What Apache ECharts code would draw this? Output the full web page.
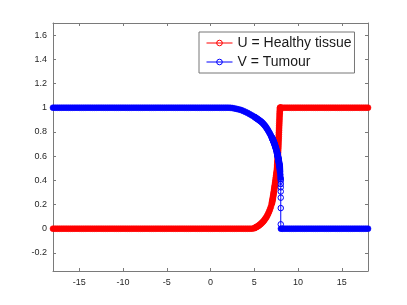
<!DOCTYPE html>
<html><head><meta charset="utf-8">
<script src="https://cdn.jsdelivr.net/npm/echarts@6/dist/echarts.min.js"></script>
<style>html,body{margin:0;padding:0;background:#fff}#c{width:407px;height:305px}</style>
</head><body><div id="c"></div>
<script>
const seriesNames = ['U = Healthy tissue', 'V = Tumour'];

const xs = [
-18,-17.75,-17.5,-17.25,-17,-16.75,-16.5,-16.25,-16,-15.75,
-15.5,-15.25,-15,-14.75,-14.5,-14.25,-14,-13.75,-13.5,-13.25,
-13,-12.75,-12.5,-12.25,-12,-11.75,-11.5,-11.25,-11,-10.75,
-10.5,-10.25,-10,-9.75,-9.5,-9.25,-9,-8.75,-8.5,-8.25,
-8,-7.75,-7.5,-7.25,-7,-6.75,-6.5,-6.25,-6,-5.75,
-5.5,-5.25,-5,-4.75,-4.5,-4.25,-4,-3.75,-3.5,-3.25,
-3,-2.75,-2.5,-2.25,-2,-1.75,-1.5,-1.25,-1,-0.75,
-0.5,-0.25,0,0.25,0.5,0.75,1,1.25,1.5,1.75,
2,2.25,2.5,2.75,3,3.25,3.5,3.75,4,4.25,
4.5,4.75,5,
5.1,5.2,5.3,5.4,5.5,5.6,5.7,5.8,5.9,6.0,
6.1,6.2,6.3,6.4,6.5,6.6,6.7,6.8,6.9,7.0,
7.025,7.05,7.075,7.1,7.125,7.15,7.175,7.2,7.225,7.25,7.275,7.3,
7.325,7.35,7.375,7.4,7.425,7.45,7.475,7.5,7.525,7.55,7.575,7.6,
7.61,7.62,7.63,7.64,7.65,7.66,7.67,7.68,7.69,7.7,
7.71,7.72,7.73,7.74,7.75,7.76,7.77,7.78,7.79,7.8,
7.81,7.82,7.83,7.84,7.85,7.86,7.87,7.88,7.89,7.9,
7.91,7.92,7.93,7.94,7.95,
7.975,8.0,
8.05,
8.25,8.5,8.75,9,9.25,9.5,9.75,10,10.25,10.5,
10.75,11,11.25,11.5,11.75,12,12.25,12.5,12.75,13,
13.25,13.5,13.75,14,14.25,14.5,14.75,15,15.25,15.5,
15.75,16,16.25,16.5,16.75,17,17.25,17.5,17.75,18
];

const uVals = [
0,0,0,0,0,0,0,0,0,0,
0,0,0,0,0,0,0,0,0,0,
0,0,0,0,0,0,0,0,0,0,
0,0,0,0,0,0,0,0,0,0,
0,0,0,0,0,0,0,0,0,0,
0,0,0,0,0,0,0,0,0,0,
0,0,0,0,0,0,0,0,0,0,
0,0,0,0,0,0,0,0,0,0,
0,0,0,0,0,0,0,0,0,0,
0,0,0.004,
0.008,0.012,0.016,0.02,0.025,0.031,0.037,0.043,0.05,0.057,
0.066,0.076,0.086,0.097,0.11,0.125,0.142,0.16,0.181,0.205,
0.214,0.223,0.233,0.243,0.253,0.264,0.275,0.286,0.298,0.31,0.322,0.334,
0.346,0.358,0.37,0.383,0.396,0.41,0.424,0.438,0.451,0.464,0.477,0.49,
0.5,0.51,0.52,0.531,0.542,0.553,0.564,0.576,0.588,0.6,
0.614,0.629,0.644,0.66,0.676,0.692,0.709,0.726,0.743,0.76,
0.778,0.796,0.814,0.832,0.85,0.868,0.886,0.904,0.922,0.94,
0.955,0.969,0.981,0.992,1,
1,1,
1,
1,1,1,1,1,1,1,1,1,1,
1,1,1,1,1,1,1,1,1,1,
1,1,1,1,1,1,1,1,1,1,
1,1,1,1,1,1,1,1,1,1
];

const vVals = [
1,1,1,1,1,1,1,1,1,1,
1,1,1,1,1,1,1,1,1,1,
1,1,1,1,1,1,1,1,1,1,
1,1,1,1,1,1,1,1,1,1,
1,1,1,1,1,1,1,1,1,1,
1,1,1,1,1,1,1,1,1,1,
1,1,1,1,1,1,1,1,1,1,
1,1,1,1,1,1,1,1,1,1,
1,0.999,0.997,0.994,0.99,0.986,0.98,0.973,0.965,0.956,
0.946,0.936,0.925,
0.92,0.915,0.91,0.905,0.9,0.895,0.889,0.883,0.877,0.87,
0.862,0.853,0.844,0.833,0.822,0.81,0.797,0.784,0.77,0.755,
0.752,0.748,0.744,0.74,0.736,0.731,0.727,0.722,0.718,0.713,0.708,0.703,
0.698,0.693,0.688,0.682,0.676,0.67,0.664,0.658,0.651,0.645,0.638,0.63,
0.627,0.624,0.621,0.617,0.614,0.611,0.607,0.604,0.6,0.597,
0.593,0.589,0.585,0.582,0.578,0.574,0.57,0.566,0.562,0.558,
0.554,0.549,0.545,0.54,0.536,0.532,0.527,0.522,0.517,0.512,
0.505,0.497,0.488,0.478,0.468,
0.445,0.42,
0,
0,0,0,0,0,0,0,0,0,0,
0,0,0,0,0,0,0,0,0,0,
0,0,0,0,0,0,0,0,0,0,
0,0,0,0,0,0,0,0,0,0
];

// sparse hollow markers where V drops to zero
const vDropX = 8.03;
const vDropY = [0.41, 0.396, 0.369, 0.342, 0.307, 0.256, 0.170, 0.036];

const xTicks = [-15, -10, -5, 0, 5, 10, 15];
const yTicks = [-0.2, 0, 0.2, 0.4, 0.6, 0.8, 1, 1.2, 1.4, 1.6];
const xRange = [-18, 18];
const yRange = [-0.35, 1.7];

const RED = '#ff0000', BLUE = '#0000ff';
const uData = xs.map((x, i) => [x, uVals[i]]);
const vData = [];
xs.forEach((x, i) => {
  vData.push([x, vVals[i]]);
  if (x === 8.0) {
    vDropY.forEach(y => vData.push({
      value: [vDropX, y], symbolSize: 5.5,
      itemStyle: { color: 'rgba(0,0,0,0)', borderColor: BLUE, borderWidth: 1 }
    }));
  }
});

const FONT = 'Liberation Sans';
const axCol = '#7a7a7a';
function xAx(pos, labels) {
  return {
    type: 'value', position: pos, min: xRange[0], max: xRange[1],
    axisLine: { show: true, onZero: false, lineStyle: { color: axCol, width: 1 } },
    axisTick: { show: true, inside: true, length: 3, customValues: xTicks, lineStyle: { color: axCol } },
    axisLabel: { show: labels, customValues: xTicks, color: '#262626', fontSize: 9, margin: 7, fontFamily: FONT },
    splitLine: { show: false }
  };
}
function yAx(pos, labels) {
  return {
    type: 'value', position: pos, min: yRange[0], max: yRange[1],
    axisLine: { show: true, onZero: false, lineStyle: { color: axCol, width: 1 } },
    axisTick: { show: true, inside: true, length: 3, customValues: yTicks, lineStyle: { color: axCol } },
    axisLabel: { show: labels, customValues: yTicks, color: '#262626', fontSize: 9, margin: 6, fontFamily: FONT },
    splitLine: { show: false }
  };
}

const chart = echarts.init(document.getElementById('c'), null, { renderer: 'canvas' });
chart.setOption({
  animation: false,
  backgroundColor: '#fff',
  grid: { left: 53, right: 39, top: 23, bottom: 34, containLabel: false },
  xAxis: [xAx('bottom', true), xAx('top', false)],
  yAxis: [yAx('left', true), yAx('right', false)],
  legend: {
    orient: 'vertical', left: 199, top: 32,
    padding: [4, 3, 4, 7], itemWidth: 26, itemHeight: 7, itemGap: 5,
    backgroundColor: '#fff', borderColor: '#777', borderWidth: 1,
    textStyle: { fontSize: 14, color: '#1a1a1a', fontFamily: FONT },
    selectedMode: false,
    lineStyle: { width: 1 },
    data: [
      { name: seriesNames[0], lineStyle: { width: 1 }, itemStyle: { color: 'rgba(0,0,0,0)', borderColor: RED, borderWidth: 1 } },
      { name: seriesNames[1], lineStyle: { width: 1 }, itemStyle: { color: 'rgba(0,0,0,0)', borderColor: BLUE, borderWidth: 1 } }
    ]
  },
  series: [
    {
      name: seriesNames[0], type: 'line', data: uData, xAxisIndex: 0, yAxisIndex: 0,
      symbol: 'circle', symbolSize: 6, clip: false, showSymbol: true,
      itemStyle: { color: RED, borderColor: RED, borderWidth: 0.5 },
      lineStyle: { color: RED, width: 1 },
      emphasis: { disabled: true }, z: 2
    },
    {
      name: seriesNames[1], type: 'line', data: vData, xAxisIndex: 0, yAxisIndex: 0,
      symbol: 'circle', symbolSize: 6, clip: false, showSymbol: true,
      itemStyle: { color: BLUE, borderColor: BLUE, borderWidth: 0.5 },
      lineStyle: { color: BLUE, width: 1 },
      emphasis: { disabled: true }, z: 3
    }
  ]
});
</script>
</body></html>
